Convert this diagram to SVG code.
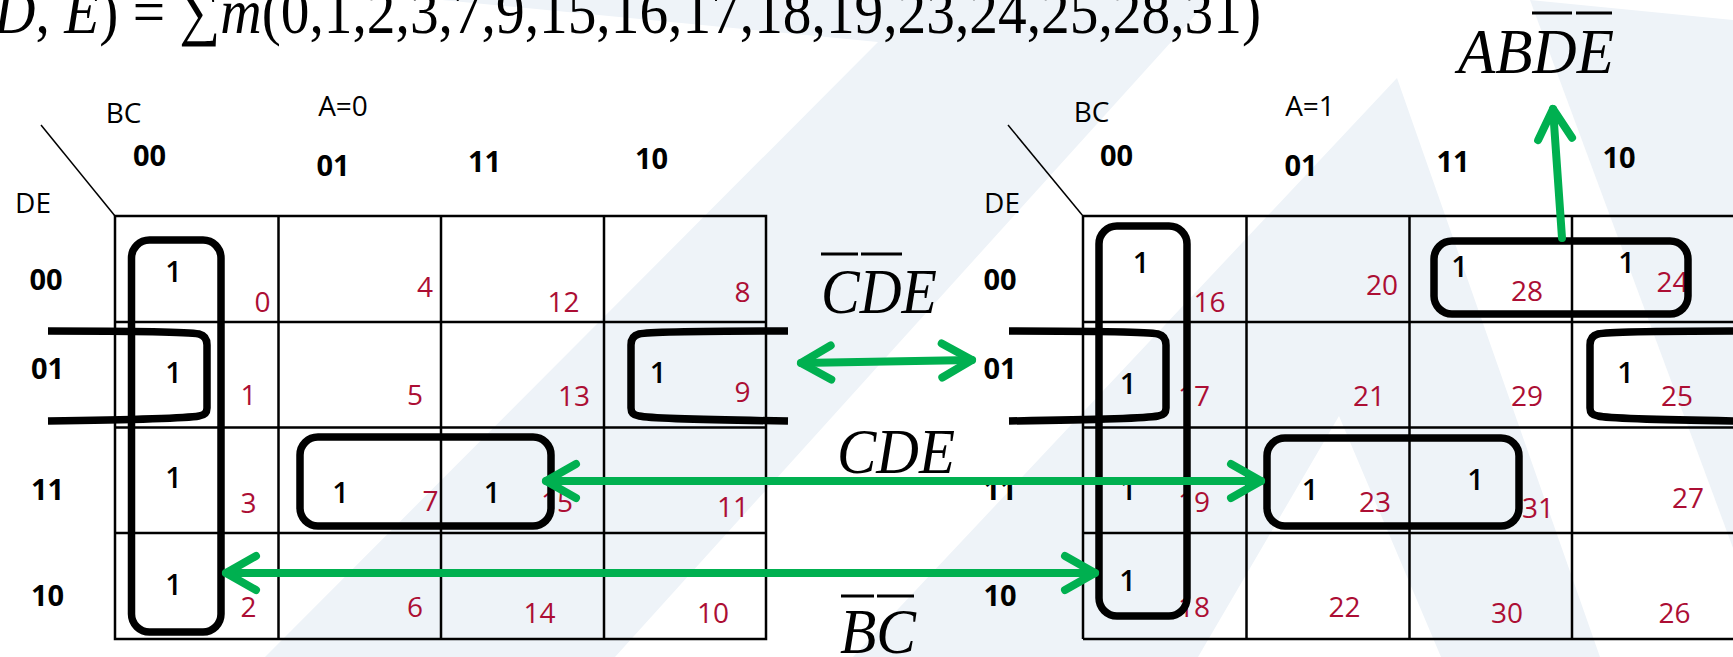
<svg xmlns="http://www.w3.org/2000/svg" width="1733" height="657" viewBox="0 0 1733 657">
  <style>
    .wm { fill: #EEF3F8; fill-rule: evenodd; }
    .grid { stroke: #000; stroke-width: 2.5; fill: none; }
    .diag { stroke: #000; stroke-width: 1.5; fill: none; }
    .loop { stroke: #000; stroke-width: 7.5; fill: none; stroke-linejoin: round; }
    .arr { stroke: #00B050; stroke-width: 8; fill: none; stroke-linecap: round; }
    .bar { stroke: #000; stroke-width: 3; }
    .lbl { font-family: "Open Sans", "Liberation Sans", sans-serif; font-size: 28px; fill: #000; text-anchor: middle; }
    .hdr { font-family: "Open Sans", "Liberation Sans", sans-serif; font-size: 29px; font-weight: 700; fill: #000; text-anchor: middle; }
    .one { font-family: "Open Sans", "Liberation Sans", sans-serif; font-size: 29px; font-weight: 600; fill: #000; text-anchor: middle; }
    .idx { font-family: "Open Sans", "Liberation Sans", sans-serif; font-size: 28px; fill: #AC0E34; text-anchor: middle; }
    .expr { font-family: "Liberation Serif", "Times New Roman", serif; font-style: italic; font-size: 64px; fill: #000; }
    .title { font-family: "Liberation Serif", "Times New Roman", serif; font-size: 64px; fill: #000; }
    .it { font-style: italic; }
  </style>
  <defs>
    <marker id="chev" markerUnits="userSpaceOnUse" viewBox="-40 -25 50 50" markerWidth="50" markerHeight="50" refX="0" refY="0" orient="auto-start-reverse" overflow="visible">
      <path d="M-30,-17 L0,0 L-30,17" fill="none" stroke="#00B050" stroke-width="8" stroke-linecap="round" stroke-linejoin="round"/>
    </marker>
  </defs>

  <rect width="1733" height="657" fill="#fff"/>

  <!-- faint watermark shapes -->
  <g id="watermark">
    <polygon class="wm" points="442,0 1209,0 615,657 265,657 878,42"/>
    <path class="wm" d="M1397,78 L1600,657 L853,657 Z M1339,416 L1441,657 L1198,657 Z"/>
    <polygon class="wm" points="1530,0 1733,20 1733,548"/>
  </g>

  <!-- minterm list -->
  <g id="function">
    <text class="title" x="-6" y="33" textLength="1267" lengthAdjust="spacingAndGlyphs"><tspan class="it">D</tspan>, <tspan class="it">E</tspan>) = ∑<tspan class="it">m</tspan>(0,1,2,3,7,9,15,16,17,18,19,23,24,25,28,31)</text>
  </g>

  <!-- K-map, A = 0 -->
  <g id="kmap-a0">
    <line class="diag" x1="41" y1="125" x2="115" y2="216"/>
    <rect class="grid" x="115" y="216" width="651" height="423"/>
    <path class="grid" d="M278.5,216 V639 M441,216 V639 M604,216 V639 M115,322 H766 M115,427.5 H766 M115,533 H766"/>
    <text class="lbl" x="123.5" y="123">BC</text>
    <text class="lbl" x="343" y="116">A=0</text>
    <text class="lbl" x="33" y="213">DE</text>
    <text class="hdr" x="149.5" y="166">00</text>
    <text class="hdr" x="333" y="176">01</text>
    <text class="hdr" x="484.5" y="172">11</text>
    <text class="hdr" x="651.5" y="169">10</text>
    <text class="hdr" x="46" y="290">00</text>
    <text class="hdr" x="47.5" y="379">01</text>
    <text class="hdr" x="47.5" y="500">11</text>
    <text class="hdr" x="47.5" y="606">10</text>

    <g id="m0"><text class="one" x="173.5" y="282">1</text><text class="idx" x="262.5" y="312">0</text></g>
    <g id="m4"><text class="idx" x="425" y="297">4</text></g>
    <g id="m12"><text class="idx" x="563.5" y="312">12</text></g>
    <g id="m8"><text class="idx" x="742.5" y="302">8</text></g>
    <g id="m1"><text class="one" x="173.5" y="383">1</text><text class="idx" x="248.5" y="405">1</text></g>
    <g id="m5"><text class="idx" x="415" y="405">5</text></g>
    <g id="m13"><text class="idx" x="574" y="406">13</text></g>
    <g id="m9"><text class="one" x="658" y="383">1</text><text class="idx" x="742.5" y="402">9</text></g>
    <g id="m3"><text class="one" x="173.5" y="488">1</text><text class="idx" x="248.5" y="513">3</text></g>
    <g id="m7"><text class="one" x="340.5" y="503">1</text><text class="idx" x="430.5" y="511">7</text></g>
    <g id="m15"><text class="one" x="492" y="503">1</text><text class="idx" x="557" y="512">15</text></g>
    <g id="m11"><text class="idx" x="733" y="517">11</text></g>
    <g id="m2"><text class="one" x="173.5" y="595">1</text><text class="idx" x="248.5" y="617">2</text></g>
    <g id="m6"><text class="idx" x="415" y="617">6</text></g>
    <g id="m14"><text class="idx" x="539.5" y="623">14</text></g>
    <g id="m10"><text class="idx" x="713" y="623">10</text></g>
  </g>

  <!-- K-map, A = 1 -->
  <g id="kmap-a1">
    <line class="diag" x1="1008" y1="125" x2="1083" y2="216"/>
    <path class="grid" d="M1083,216 H1740 M1083,639 H1740 M1083,216 V639 M1246.5,216 V639 M1409.5,216 V639 M1572,216 V639 M1083,322 H1740 M1083,427.5 H1740 M1083,533 H1740"/>
    <text class="lbl" x="1091.5" y="122">BC</text>
    <text class="lbl" x="1310" y="116">A=1</text>
    <text class="lbl" x="1002" y="213">DE</text>
    <text class="hdr" x="1116.5" y="166">00</text>
    <text class="hdr" x="1301" y="176">01</text>
    <text class="hdr" x="1453" y="172">11</text>
    <text class="hdr" x="1619" y="168">10</text>
    <text class="hdr" x="1000" y="290">00</text>
    <text class="hdr" x="1000" y="379">01</text>
    <text class="hdr" x="1000" y="500">11</text>
    <text class="hdr" x="1000" y="606">10</text>

    <g id="m16"><text class="one" x="1141" y="273">1</text><text class="idx" x="1209.5" y="312">16</text></g>
    <g id="m20"><text class="idx" x="1382" y="295">20</text></g>
    <g id="m28"><text class="one" x="1459.5" y="277">1</text><text class="idx" x="1527" y="301">28</text></g>
    <g id="m24"><text class="one" x="1626.5" y="273">1</text><text class="idx" x="1672.5" y="292">24</text></g>
    <g id="m17"><text class="one" x="1128" y="394">1</text><text class="idx" x="1194" y="406">17</text></g>
    <g id="m21"><text class="idx" x="1369" y="406">21</text></g>
    <g id="m29"><text class="idx" x="1527" y="406">29</text></g>
    <g id="m25"><text class="one" x="1625.5" y="383">1</text><text class="idx" x="1677" y="406">25</text></g>
    <g id="m19"><text class="one" x="1128" y="500">1</text><text class="idx" x="1194" y="512">19</text></g>
    <g id="m23"><text class="one" x="1310" y="500">1</text><text class="idx" x="1375" y="512">23</text></g>
    <g id="m31"><text class="one" x="1475.5" y="490">1</text><text class="idx" x="1538" y="518">31</text></g>
    <g id="m27"><text class="idx" x="1688" y="508">27</text></g>
    <g id="m18"><text class="one" x="1127.5" y="591">1</text><text class="idx" x="1194" y="617">18</text></g>
    <g id="m22"><text class="idx" x="1344.5" y="617">22</text></g>
    <g id="m30"><text class="idx" x="1507" y="623">30</text></g>
    <g id="m26"><text class="idx" x="1674.5" y="623">26</text></g>
  </g>

  <!-- groupings -->
  <g id="loop-bc">
    <rect class="loop" x="131.5" y="240" width="89.5" height="392" rx="18"/>
    <rect class="loop" x="1099" y="226" width="88" height="390" rx="18"/>
  </g>
  <g id="loop-cde">
    <rect class="loop" x="300" y="437" width="251" height="89" rx="18"/>
    <rect class="loop" x="1267" y="438" width="252" height="88" rx="18"/>
  </g>
  <g id="loop-abde">
    <rect class="loop" x="1434" y="241" width="254" height="73" rx="18"/>
  </g>
  <g id="loop-cnde">
    <path class="loop" d="M48,331 C120,331 188,332 199,334 Q207,336 207,345 L207,408 Q207,415 199,416 C188,418 120,420 48,421"/>
    <path class="loop" d="M788,331 C716,331 648,332 639,334 Q631,336 631,345 L631,408 Q631,415 639,416 C648,418 716,420 788,421"/>
    <path class="loop" d="M1009,331 C1080,331 1148,332 1158,334 Q1166,336 1166,345 L1166,408 Q1166,415 1158,416 C1148,418 1080,420 1009,421"/>
    <path class="loop" d="M1740,331 C1668,331 1606,332 1598,334 Q1590,336 1590,345 L1590,408 Q1590,415 1598,416 C1606,418 1668,420 1740,421"/>
  </g>

  <!-- product terms -->
  <g id="term-cnde">
    <text class="expr" x="821" y="313" textLength="116" lengthAdjust="spacingAndGlyphs">CDE</text>
    <line class="bar" x1="821" y1="254" x2="858" y2="254"/>
    <line class="bar" x1="861" y1="254" x2="902" y2="254"/>
  </g>
  <g id="term-cde">
    <text class="expr" x="837" y="473" textLength="118" lengthAdjust="spacingAndGlyphs">CDE</text>
  </g>
  <g id="term-bc">
    <text class="expr" x="840" y="653" textLength="76" lengthAdjust="spacingAndGlyphs">BC</text>
    <line class="bar" x1="841" y1="596" x2="874" y2="596"/>
    <line class="bar" x1="877" y1="596" x2="914" y2="596"/>
  </g>
  <g id="term-abde">
    <text class="expr" x="1458" y="73" textLength="156" lengthAdjust="spacingAndGlyphs">ABDE</text>
    <line class="bar" x1="1532" y1="13" x2="1572" y2="13"/>
    <line class="bar" x1="1576" y1="13" x2="1612" y2="13"/>
  </g>

  <!-- connectors -->
  <g id="connectors">
    <path class="arr" d="M801,363 L972,360" marker-start="url(#chev)" marker-end="url(#chev)"/>
    <path class="arr" d="M546,481 L1261,481" marker-start="url(#chev)" marker-end="url(#chev)"/>
    <path class="arr" d="M226,573 L1095,573" marker-start="url(#chev)" marker-end="url(#chev)"/>
    <path class="arr" d="M1562,238 L1553,109" marker-end="url(#chev)"/>
  </g>
</svg>
